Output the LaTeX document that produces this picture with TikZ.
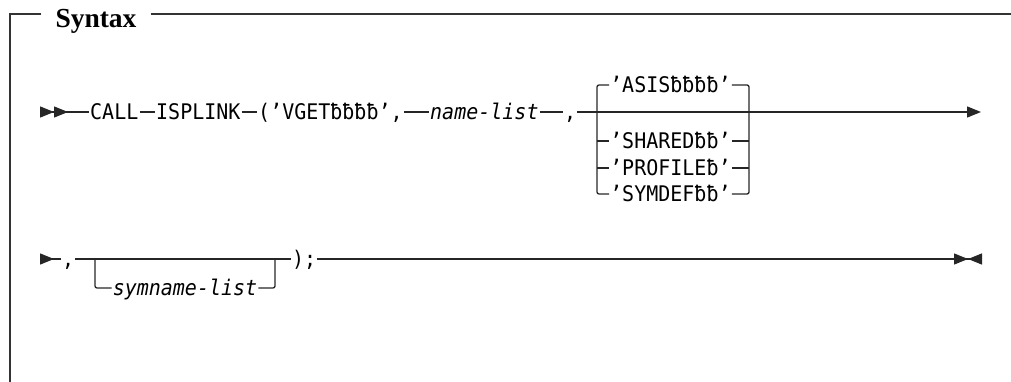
\documentclass[tikz,border=0pt]{standalone}
\usepackage{fontspec}
\newfontfamily\railfont[FakeStretch=0.93,ItalicFont={DejaVu Sans Mono Oblique}]{DejaVu Sans Mono}
\newfontfamily\headfont{Liberation Serif}
\usetikzlibrary{positioning, arrows.meta}

\begin{document}
\begin{tikzpicture}[
      x=1pt, y=-1pt,
      every node/.style={font=\railfont\fontsize{21.5}{24}\selectfont, inner xsep=1pt, inner ysep=0pt, text height=15.5pt, text depth=0pt},
      kw/.style={anchor=west},
      var/.style={font=\railfont\itshape\fontsize{21.5}{24}\selectfont},
      heading/.style={font=\headfont\bfseries\fontsize{27.5}{30}\selectfont, anchor=base, inner xsep=14pt, text height=19pt, text depth=6pt},
      rail/.style={line width=1.3pt, draw=black!85, rounded corners=2pt},
      frame/.style={line width=1.4pt, draw=black!80},
      tri/.tip={Triangle[length=14pt, width=11pt, sep=0pt]},
    ]
    \useasboundingbox (0,0) rectangle (1011,382);

    % frame with heading
    \coordinate (ftop) at (0,14);
    \coordinate (fbot) at (10,382);
    \coordinate (fend) at (1011,14);
    \node[heading] (title) at (96,28) {Syntax};
    \draw[frame] (title.west |- ftop) -| (fbot);
    \draw[frame] (title.east |- ftop) -- (fend);

    % first line
    \coordinate (start1) at (40,112);
    \node[kw] (call) at (89,112) {CALL};
    \node[kw] (isplink) at (155,112) {ISPLINK};
    \node[kw] (vget) at (257,112) {(’VGETƀƀƀƀ’,~};
    \node[var, anchor=west] (names) at (429,112) {name-list};
    \node[kw] (comma1) at (563,112) {,};
    \coordinate (end1) at (981,112);

    \draw[rail, {tri[reversed] tri[reversed]}-] (start1) -- (call);
    \draw[rail] (call) -- (isplink) -- (vget) -- (names) -- (comma1);
    \draw[rail, -tri] (comma1) -- (end1);

    % choice stack
    \node[kw] (asis) at (609,85) {’ASISƀƀƀƀ’~};
    \node[kw] (shared) at (609,141) {’SHAREDƀƀ’~};
    \node[kw] (profile) at (609,168) {’PROFILEƀ’~};
    \node[kw] (symdef) at (609,194) {’SYMDEFƀƀ’~};
    \coordinate (lbot) at (597,194);
    \coordinate (rbot) at (749,194);

    \draw[rail] (asis) -| (lbot) -- (symdef);
    \draw[rail] (asis) -| (rbot) -- (symdef);
    \draw[rail] (lbot |- shared) -- (shared) -- (rbot |- shared);
    \draw[rail] (lbot |- profile) -- (profile) -- (rbot |- profile);

    % second line
    \coordinate (start2) at (40,259);
    \node[kw] (comma2) at (61,259) {,};
    \node[var] (symnames) at (185,288) {symname-list};
    \node[kw] (close) at (291,259) {);};
    \coordinate (boxl) at (95,259);
    \coordinate (boxr) at (275,259);
    \coordinate (end2) at (982,259);

    \draw[rail, {tri[reversed]}-] (start2) -- (comma2);
    \draw[rail] (comma2) -- (close);
    \draw[rail] (boxl) |- (symnames) -| (boxr);
    \draw[rail, -{tri[] tri[reversed]}] (close) -- (end2);
  \end{tikzpicture}
\end{document}
